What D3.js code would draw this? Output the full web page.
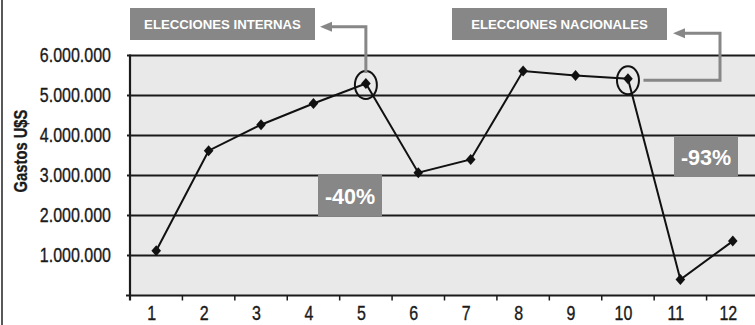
<!DOCTYPE html>
<html>
<head>
<meta charset="utf-8">
<script src="https://cdn.jsdelivr.net/npm/d3@7/dist/d3.min.js"></script>
<style>
  html, body { margin: 0; padding: 0; background: #fff; }
  svg { display: block; }
  text { font-family: 'Liberation Sans', Arial, sans-serif; }
</style>
</head>
<body>
<svg id="chart" width="755" height="325"></svg>
<script>
// Monthly spending (U$S)
const months = ["1", "2", "3", "4", "5", "6", "7", "8", "9", "10", "11", "12"];
const gastos = [1120000, 3620000, 4270000, 4800000, 5300000, 3070000, 3400000, 5610000, 5500000, 5420000, 400000, 1360000];
const yTicks = [1000000, 2000000, 3000000, 4000000, 5000000, 6000000];
const eventMonths = ["5", "10"];
const eventLabels = ["ELECCIONES INTERNAS", "ELECCIONES NACIONALES"];
const dropLabels = ["-40%", "-93%"];

const svg = d3.select("#chart");
const W = 755, H = 325;
const plot = { left: 130, right: 759, top: 55.5, bottom: 295.5 };
const squeeze = 0.82; // condensed look for axis text

const x = d3.scaleBand().domain(months).range([plot.left, plot.right]).padding(0);
const y = d3.scaleLinear().domain([0, 6000000]).range([plot.bottom, plot.top]);
const loc = d3.formatLocale({ decimal: ",", thousands: ".", grouping: [3], currency: ["$", ""] });
const fmt = loc.format(",d");

const grey = "#878787";
const ink = "#1a1a1a";
const data = months.map((m, i) => ({ m, v: gastos[i] }));
const cx = d => x(d) + x.bandwidth() / 2;

// frame line on the left
svg.append("line").attr("x1", 2).attr("x2", 2).attr("y1", 0).attr("y2", H)
  .attr("stroke", "#222").attr("stroke-width", 1.5);

// plot background
svg.append("rect").attr("x", plot.left).attr("y", plot.top)
  .attr("width", plot.right - plot.left).attr("height", plot.bottom - plot.top)
  .attr("fill", "#e9e9e9");

// horizontal grid lines + y tick stubs
svg.append("g").selectAll("line").data(yTicks).join("line")
  .attr("x1", plot.left - 3).attr("x2", plot.right)
  .attr("y1", d => y(d)).attr("y2", d => y(d))
  .attr("stroke", ink).attr("stroke-width", 2.2);

// y tick labels
svg.append("g").selectAll("text").data(yTicks).join("text")
  .attr("transform", d => `translate(111,${y(d) + 6.8}) scale(${squeeze},1)`)
  .attr("text-anchor", "end").attr("font-size", 19.5).attr("fill", ink)
  .attr("stroke", ink).attr("stroke-width", 0.35)
  .text(d => fmt(d));

// axes
svg.append("line").attr("x1", plot.left).attr("x2", plot.left)
  .attr("y1", plot.top - 1).attr("y2", plot.bottom + 5)
  .attr("stroke", ink).attr("stroke-width", 2.2);
svg.append("line").attr("x1", plot.left - 4).attr("x2", plot.right)
  .attr("y1", plot.bottom).attr("y2", plot.bottom)
  .attr("stroke", ink).attr("stroke-width", 2.2);

// x ticks at category boundaries
svg.append("g").selectAll("line").data(months.slice(1)).join("line")
  .attr("x1", d => x(d)).attr("x2", d => x(d))
  .attr("y1", plot.bottom).attr("y2", plot.bottom + 5)
  .attr("stroke", ink).attr("stroke-width", 1.5);

// x labels
svg.append("g").selectAll("text").data(months).join("text")
  .attr("transform", d => `translate(${cx(d) - 4.5},320) scale(${squeeze},1)`)
  .attr("text-anchor", "middle").attr("font-size", 19.5).attr("fill", ink)
  .attr("stroke", ink).attr("stroke-width", 0.35)
  .text(d => d);

// y-axis title
svg.append("text")
  .attr("transform", `translate(27,151) rotate(-90) scale(${squeeze},1)`)
  .attr("text-anchor", "middle").attr("font-size", 18).attr("font-weight", "bold")
  .attr("fill", ink).attr("stroke", ink).attr("stroke-width", 0.3)
  .text("Gastos U$S");

// series line
svg.append("path").datum(data)
  .attr("fill", "none").attr("stroke", "#111").attr("stroke-width", 2)
  .attr("d", d3.line().x(d => cx(d.m)).y(d => y(d.v)));

// diamond markers
svg.append("g").selectAll("path").data(data).join("path")
  .attr("transform", d => `translate(${cx(d.m)},${y(d.v)})`)
  .attr("d", "M0,-5.5L4.8,0L0,5.5L-4.8,0Z")
  .attr("fill", "#111");

// circled events
const ev = eventMonths.map(m => ({ m, v: gastos[months.indexOf(m)] }));
svg.append("g").selectAll("ellipse").data(ev).join("ellipse")
  .attr("cx", d => cx(d.m)).attr("cy", d => y(d.v) + 1.5)
  .attr("rx", 11).attr("ry", 14)
  .attr("fill", "none").attr("stroke", "#111").attr("stroke-width", 2);

// event label boxes
const boxes = [
  { x0: 130, x1: 315 },
  { x0: 452, x1: 667 }
];
boxes.forEach((b, i) => {
  svg.append("rect").attr("x", b.x0).attr("y", 8).attr("width", b.x1 - b.x0).attr("height", 32)
    .attr("fill", grey);
  svg.append("text")
    .attr("x", (b.x0 + b.x1) / 2).attr("y", 29.3)
    .attr("text-anchor", "middle").attr("font-size", 13.2).attr("font-weight", "bold")
    .attr("fill", "#fff").text(eventLabels[i]);
});

// connector arrows
const arrowHead = (tipX, tipY) =>
  `M${tipX},${tipY}L${tipX + 12},${tipY - 5}L${tipX + 12},${tipY + 5}Z`;

const e1x = cx(ev[0].m), e1top = y(ev[0].v) + 1.5 - 14;
svg.append("path")
  .attr("d", `M${e1x},${e1top + 2}V26.7H${320 + 10}`)
  .attr("fill", "none").attr("stroke", grey).attr("stroke-width", 3);
svg.append("path").attr("d", arrowHead(320, 26.7)).attr("fill", grey);

const e2x = cx(ev[1].m) + 11 + 4.5, e2y = y(ev[1].v) + 1.5;
svg.append("path")
  .attr("d", `M${e2x},${e2y}H720V33.3H${673 + 10}`)
  .attr("fill", "none").attr("stroke", grey).attr("stroke-width", 3);
svg.append("path").attr("d", arrowHead(673, 33.3)).attr("fill", grey);

// drop percentage boxes
const drops = [
  { x0: 318, x1: 382, y0: 174, y1: 216, base: 204 },
  { x0: 674, x1: 738, y0: 136, y1: 177, base: 164.5 }
];
drops.forEach((b, i) => {
  svg.append("rect").attr("x", b.x0).attr("y", b.y0)
    .attr("width", b.x1 - b.x0).attr("height", b.y1 - b.y0).attr("fill", grey);
  svg.append("text")
    .attr("x", (b.x0 + b.x1) / 2).attr("y", b.base)
    .attr("text-anchor", "middle").attr("font-size", 21.5).attr("font-weight", "bold")
    .attr("fill", "#fff").text(dropLabels[i]);
});
</script>
</body>
</html>
